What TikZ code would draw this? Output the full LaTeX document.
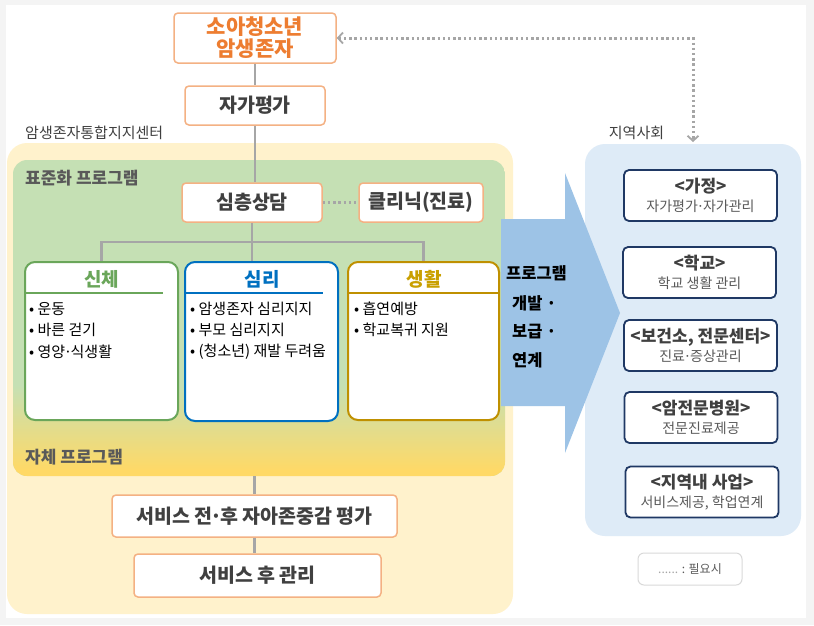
\documentclass[tikz,border=0pt]{standalone}
\usepackage{fontspec}
\setmainfont{Noto Sans CJK KR}
\usetikzlibrary{arrows.meta}
\newcommand\kdot{\kern-0.1em·\kern-0.1em}
\definecolor{bggrey}{HTML}{F4F4F4}
\definecolor{orline}{HTML}{F4B183}
\definecolor{ortext}{HTML}{ED7D31}
\definecolor{dtext}{HTML}{404040}
\definecolor{mtext}{HTML}{595959}
\definecolor{conn}{HTML}{A6A6A6}
\definecolor{outeryel}{HTML}{FFF2CC}
\definecolor{greenc}{HTML}{C5E0B4}
\definecolor{yellowc}{HTML}{FFD966}
\definecolor{bodyc}{HTML}{6AA65A}
\definecolor{mindc}{HTML}{0070C0}
\definecolor{lifec}{HTML}{BF9000}
\definecolor{lifet}{HTML}{C9A000}
\definecolor{arrowblue}{HTML}{9DC3E6}
\definecolor{panelblue}{HTML}{DEEBF7}
\definecolor{navy}{HTML}{1F3864}
\definecolor{legline}{HTML}{D9D9D9}
\begin{document}
\begin{tikzpicture}[x=1pt,y=-1pt,
  obox/.style={draw=orline, line width=1.5pt, rounded corners=4pt, fill=white, inner sep=0pt,
    font=\bfseries\fontsize{19.5}{21}\selectfont, text=dtext},
  catbox/.style={line width=2pt, rounded corners=10pt, fill=white, inner sep=0pt,
    minimum height=158, },
  cattitle/.style={font=\bfseries\fontsize{19}{21}\selectfont, inner sep=0pt},
  item/.style={anchor=west, inner sep=0pt, font=\fontsize{15}{17}\selectfont, text=black},
  grouplabel/.style={anchor=west, inner sep=0pt, font=\bfseries\fontsize{17}{19}\selectfont, text=mtext},
  arealabel/.style={inner sep=0pt, font=\fontsize{15}{17}\selectfont, text=dtext},
  rbox/.style={draw=navy, line width=1.8pt, rounded corners=5pt, fill=white, inner sep=0pt,
    minimum width=153, minimum height=51, align=center, text=mtext,
    font=\fontsize{14}{19.5}\selectfont},
  arrtext/.style={anchor=west, inner sep=0pt, font=\bfseries\fontsize{16.5}{18}\selectfont, text=black},
  connline/.style={draw=conn, line width=2.6pt},
  dotline/.style={draw=conn, line width=3pt, dash pattern=on 2.4pt off 2.8pt},
]
\useasboundingbox (0,0) rectangle (814,625);
\fill[bggrey] (0,0) rectangle (814,625);
\fill[white] (6,5) rectangle (806,618);

% areas
\fill[outeryel, rounded corners=20pt] (7,143) rectangle (513,614);
\begin{scope}
  \clip[rounded corners=14pt] (13,160) rectangle (505,476);
  \fill[greenc] (13,160) rectangle (505,476);
  \shade[top color=greenc, bottom color=yellowc] (13,385) rectangle (505,471);
  \fill[yellowc] (13,470) rectangle (505,477);
\end{scope}
\fill[panelblue, rounded corners=20pt] (585,144) rectangle (801,536);

\node[arealabel, anchor=west] (centerlbl) at (25,133) {암생존자통합지지센터};
\node[arealabel] (commlbl) at (636.5,133) {지역사회};
\node[grouplabel] (stdlbl) at (25,178) {표준화 프로그램};
\node[grouplabel] (ownlbl) at (25,457) {자체 프로그램};

% top chain
\node[obox, minimum width=162, minimum height=50, text=ortext, align=center,
  font=\bfseries\fontsize{21}{22}\selectfont] (top) at (255,38) {소아청소년\\암생존자};
\node[obox, minimum width=140, minimum height=39] (self) at (255,105.5) {자가평가};
\node[obox, minimum width=140, minimum height=39] (sim) at (252,202.5) {심층상담};
\node[obox, minimum width=124, minimum height=39] (clinic) at (421,202.5) {클리닉(진료)};

\draw[connline] (self.south) -- (self.south |- sim.north);
\draw[connline] (top.south) -- (self.north);
\draw[dotline] (sim.east) -- (clinic.west);

% category boxes
\node[catbox, draw=bodyc, minimum width=153] (body) at (101.5,341) {};
\node[catbox, draw=mindc, minimum width=153, minimum height=159] (mind) at (261.5,341.5) {};
\node[catbox, draw=lifec, minimum width=151] (life) at (423.5,341) {};

\draw[connline] (sim.south) -- (sim.south |- mind.north);
\draw[connline] (body.north) -- (body.north |- 0,242) -- (life.north |- 0,242) -- (life.north);

\node[cattitle, text=bodyc] (bodyt) at (101.5,279) {신체};
\node[cattitle, text=mindc] (mindt) at (262,279) {심리};
\node[cattitle, text=lifet] (lifet) at (424,279) {생활};
\draw[draw=bodyc, line width=1.8pt] (body.west |- 0,293) -- (163,293);
\draw[draw=mindc, line width=1.8pt] (mind.west |- 0,293) -- (323,293);
\draw[draw=lifec, line width=1.8pt] (life.west |- 0,293) -- (life.east |- 0,293);

\node[item] (b1) at (29,309) {• 운동};
\node[item] (b2) at (29,330) {• 바른 걷기};
\node[item] (b3) at (29,352) {• 영양\kdot 식생활};
\node[item] (m1) at (190,309) {• 암생존자 심리지지};
\node[item] (m2) at (190,330) {• 부모 심리지지};
\node[item] (m3) at (190,352) {• (청소년) 재발 두려움};
\node[item] (l1) at (354,309) {• 흡연예방};
\node[item] (l2) at (354,330) {• 학교복귀 지원};

% bottom chain
\node[obox, minimum width=285, minimum height=42] (eval) at (254.5,516) {서비스 전\kdot 후 자아존중감 평가};
\node[obox, minimum width=247, minimum height=43] (after) at (257.5,575.5) {서비스 후 관리};
\draw[connline] (eval.north |- 0,476) -- (eval.north);
\draw[connline] (eval.south) -- (eval.south |- after.north);

% big arrow
\fill[arrowblue] (501,219) -- (565,219) -- (565,173) -- (620,313) -- (565,453) -- (565,406) -- (501,406) -- cycle;
\node[arrtext] (a1) at (506,273) {프로그램};
\node[arrtext] (a2) at (512,303) {개발 ·};
\node[arrtext] (a3) at (512,332) {보급 ·};
\node[arrtext] (a4) at (512,360) {연계};

% right boxes
\node[rbox] (home) at (700.5,195.5) {{\bfseries\fontsize{17}{19.5}\selectfont\color{dtext}<가정>}\\자가평가\kdot 자가관리};
\node[rbox] (school) at (699.5,272.5) {{\bfseries\fontsize{17}{19.5}\selectfont\color{dtext}<학교>}\\학교 생활 관리};
\node[rbox] (health) at (700.5,345.5) {{\bfseries\fontsize{17}{19.5}\selectfont\color{dtext}<보건소, 전문센터>}\\진료\kdot 증상관리};
\node[rbox] (hosp) at (701,417.5) {{\bfseries\fontsize{17}{19.5}\selectfont\color{dtext}<암전문병원>}\\전문진료제공};
\node[rbox] (local) at (702,492) {{\bfseries\fontsize{17}{19.5}\selectfont\color{dtext}<지역내 사업>}\\서비스제공, 학업연계};

% dotted two-way connector
\coordinate (commtop) at (693,142);
\draw[dotline, {Straight Barb[length=5pt,width=11pt,line width=1.8pt]}-{Straight Barb[length=5pt,width=11pt,line width=1.8pt]}]
  (top.east) -- (commtop |- top.east) -- (commtop);

% legend
\node[draw=legline, line width=1pt, rounded corners=6pt, fill=white, minimum width=104, minimum height=32,
  inner sep=0pt, font=\fontsize{12}{14}\selectfont, text=mtext] (legend) at (690,569) {{\color{conn}......} : 필요시};
\end{tikzpicture}
\end{document}
